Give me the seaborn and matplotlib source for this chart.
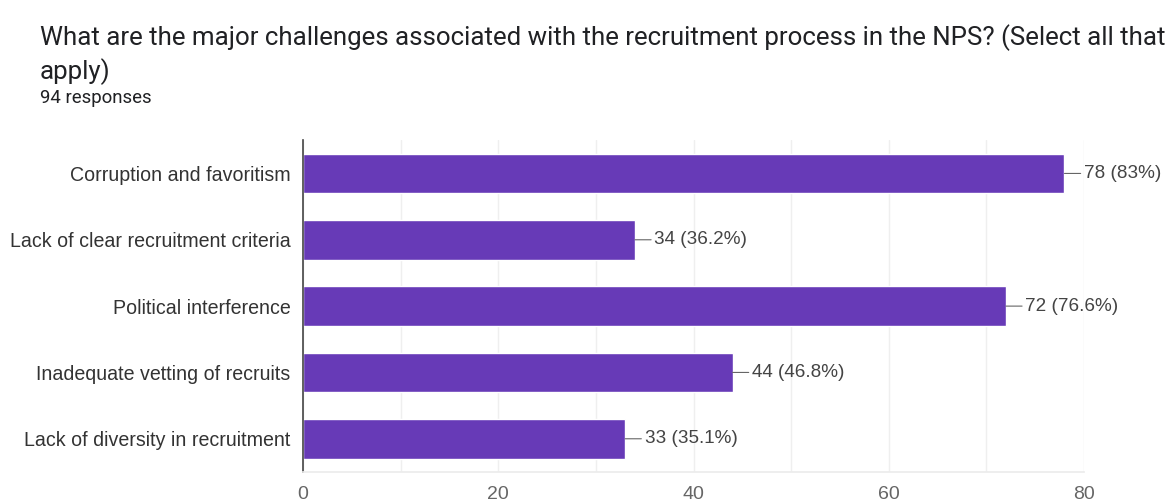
import matplotlib
matplotlib.use("Agg")
import matplotlib.pyplot as plt
import seaborn as sns
import pandas as pd

categories = [
    "Corruption and favoritism",
    "Lack of clear recruitment criteria",
    "Political interference",
    "Inadequate vetting of recruits",
    "Lack of diversity in recruitment",
]
counts = [78, 34, 72, 44, 33]
percents = ["83%", "36.2%", "76.6%", "46.8%", "35.1%"]
x_ticks = [0, 20, 40, 60, 80]
total_responses = 94

title_lines = [
    "What are the major challenges associated with the recruitment process in the NPS? (Select all that",
    "apply)",
]
subtitle = f"{total_responses} responses"

sns.set_theme(style="white")
plt.rcParams["font.family"] = ["Liberation Sans", "DejaVu Sans"]

df = pd.DataFrame({"category": categories, "count": counts})

fig = plt.figure(figsize=(11.7, 5.01), dpi=100)
ax = fig.add_axes([0.259, 0.058, 0.6675, 0.662])

sns.barplot(data=df, x="count", y="category", orient="h", color="#673AB7",
            saturation=1, width=0.6, ax=ax)

ax.set_xlim(0, 80)
ax.set_ylim(len(categories) - 0.5, -0.5)
ax.set_xticks(x_ticks)
ax.set_xticks(range(0, 81, 10), minor=True)
ax.grid(axis="x", which="both", color="#efefef", linewidth=1)
ax.set_axisbelow(True)
ax.set_xlabel("")
ax.set_ylabel("")
for s in ["top", "right"]:
    ax.spines[s].set_visible(False)
ax.spines["bottom"].set_color("#ececec")
ax.spines["left"].set_color("#444444")
ax.spines["left"].set_linewidth(1.2)
ax.tick_params(axis="y", length=0, pad=9, labelsize=14.1, labelcolor="#333333")
ax.tick_params(axis="x", which="both", length=0, pad=10, labelsize=14, labelcolor="#666666")

# value annotations with a short leader line
for i, (c, p) in enumerate(zip(counts, percents)):
    ax.annotate(f"{c} ({p})", xy=(c, i), xytext=(14, 0), textcoords="offset points",
                va="center", ha="left", fontsize=13.6, color="#444444",
                arrowprops=dict(arrowstyle="-", color="#666666", lw=0.8,
                                shrinkA=0, shrinkB=0))

title_font = ["Roboto", "DejaVu Sans"]
fig.text(0.034, 0.924, title_lines[0], fontsize=18.6, color="#202124",
         va="center", ha="left", family=title_font)
fig.text(0.034, 0.858, title_lines[1], fontsize=18.6, color="#202124",
         va="center", ha="left", family=title_font)
fig.text(0.034, 0.804, subtitle, fontsize=13.4, color="#202124",
         va="center", ha="left", family=title_font)

fig.savefig("out.png", dpi=100, facecolor="white")
